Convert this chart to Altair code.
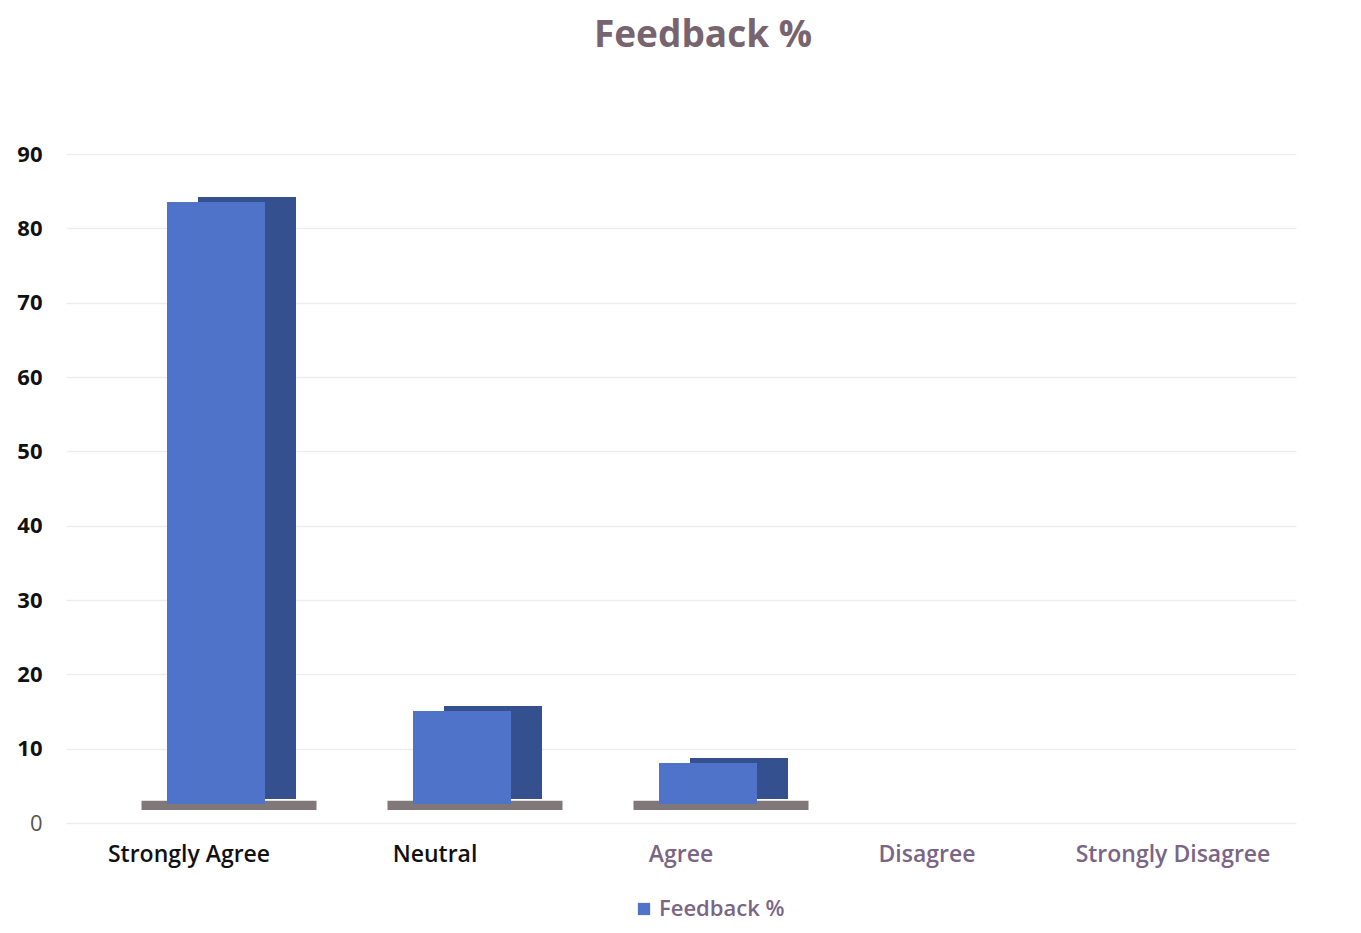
import altair as alt
import pandas as pd

categories = ["Strongly Agree", "Neutral", "Agree", "Disagree", "Strongly Disagree"]
values = [81, 12.5, 5.5, 0, 0]
series_name = "Feedback %"
y_ticks = [0, 10, 20, 30, 40, 50, 60, 70, 80, 90]

df = pd.DataFrame({"category": categories, "value": values, "series": [series_name] * len(categories)})

FONT = "Open Sans"
x_enc = alt.X(
    "category:N",
    sort=categories,
    scale=alt.Scale(domain=categories, paddingInner=0.6, paddingOuter=0.3),
    axis=alt.Axis(
        title=None, labelAngle=0, labelFontSize=23, labelFont=FONT, labelFontWeight=600,
        labelPadding=20, labelLimit=400, ticks=False, domain=False, grid=False,
        labelColor={"condition": {"test": "datum.value == 'Strongly Agree' || datum.value == 'Neutral'",
                                  "value": "#111111"}, "value": "#7a6585"},
    ),
)
y_scale = alt.Scale(domain=[0, 90], nice=False)
y_axis = alt.Axis(
    title=None, values=y_ticks, labelFontSize=22, labelFont=FONT,
    labelFontWeight={"condition": {"test": "datum.value == 0", "value": "normal"}, "value": "bold"},
    labelColor={"condition": {"test": "datum.value == 0", "value": "#555555"}, "value": "#111111"},
    labelPadding=24, ticks=False, domain=False, grid=True, gridColor="#ededed", gridWidth=1.5,
)
y_enc = alt.Y("value:Q", scale=y_scale, axis=y_axis)

base = alt.Chart(df)

shadow = base.transform_filter("datum.value > 0").transform_calculate(s0="0", s1="3").mark_bar(
    color="#4a3f3f", opacity=0.7, width=175, xOffset=40, yOffset=-13
).encode(x=x_enc, y=alt.Y("s0:Q", scale=y_scale, axis=y_axis), y2="s1:Q")

back = base.transform_filter("datum.value > 0").mark_bar(
    color="#34508f", width=98, xOffset=58, yOffset=-24
).encode(x=x_enc, y=y_enc)

front = base.transform_filter("datum.value > 0").mark_bar(
    width=98, xOffset=27, yOffset=-19
).encode(
    x=x_enc,
    y=y_enc,
    color=alt.Color(
        "series:N",
        scale=alt.Scale(range=["#4f73c9"]),
        legend=alt.Legend(
            title=None, orient="none", legendX=567, legendY=744, symbolType="square",
            symbolSize=150, labelFontSize=22, labelFont=FONT, labelFontWeight=600,
            labelColor="#7a6585", symbolStrokeWidth=0,
        ),
    ),
)

chart = alt.layer(shadow, back, front).properties(
    width=1230,
    height=669,
    background="white",
    autosize=alt.AutoSizeParams(type="none"),
    padding={"left": 58, "top": 146, "right": 57, "bottom": 100},
    title=alt.TitleParams(
        "Feedback %", fontSize=37, font=FONT, fontWeight="bold", color="#77646f",
        anchor="middle", offset=88, dx=22,
    ),
).configure_view(strokeWidth=0)

chart.save("out.html", embed_options={"renderer": "svg", "actions": False})
